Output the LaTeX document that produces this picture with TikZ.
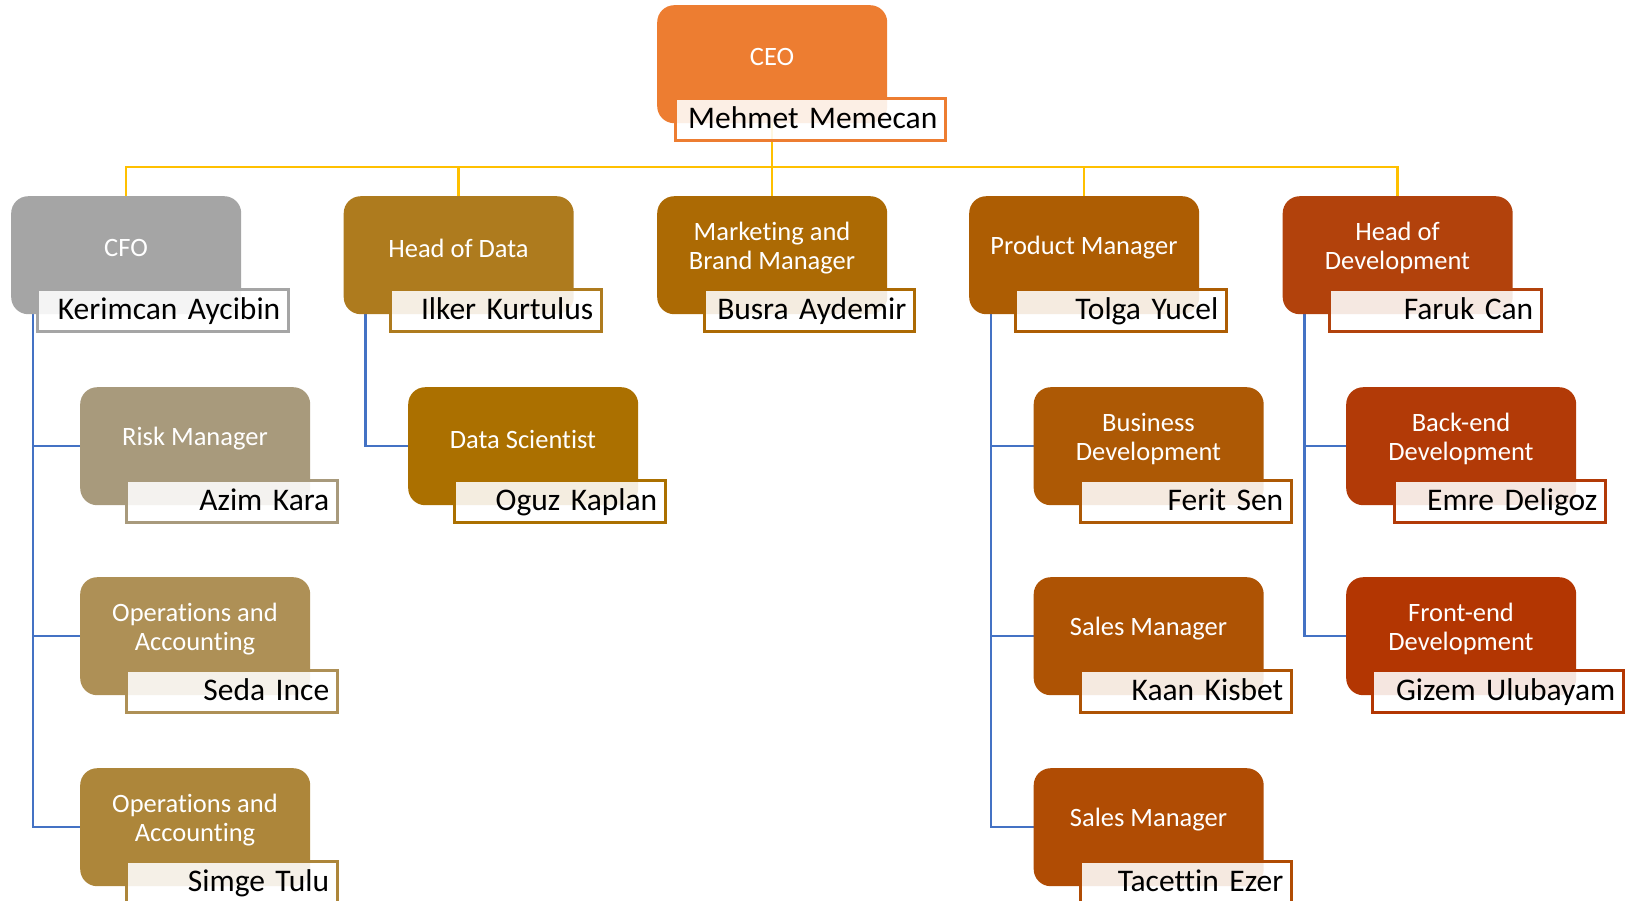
\documentclass[tikz,border=0pt]{standalone}
\usepackage{fontspec}
\setmainfont{Carlito}[Ligatures=NoCommon]
\usetikzlibrary{calc}
\pgfdeclarelayer{bg}
\pgfsetlayers{bg,main}
\definecolor{ceoC}{HTML}{ED7D31}
\definecolor{cfoC}{HTML}{A5A5A5}
\definecolor{dataC}{HTML}{AE7B1E}
\definecolor{mktC}{HTML}{AC6A04}
\definecolor{prodC}{HTML}{AD5D03}
\definecolor{devC}{HTML}{B2420C}
\definecolor{riskC}{HTML}{A89A7C}
\definecolor{opsaC}{HTML}{AE9056}
\definecolor{opsbC}{HTML}{AD863A}
\definecolor{dsC}{HTML}{AB7000}
\definecolor{bizC}{HTML}{AD5905}
\definecolor{salesaC}{HTML}{AE5304}
\definecolor{salesbC}{HTML}{B04C04}
\definecolor{backC}{HTML}{B23A07}
\definecolor{frontC}{HTML}{B33602}
\definecolor{yelC}{HTML}{FFC000}
\definecolor{bluC}{HTML}{4472C4}
\tikzset{
  unitbox/.style={rectangle, rounded corners=17pt, minimum width=230pt, minimum height=118pt, inner sep=0pt, anchor=north west},
  titletext/.style={text=white, align=center, inner sep=0pt, font=\fontsize{26.5}{29}\selectfont},
  namebox/.style={rectangle, line width=2.5pt, fill=white, fill opacity=0.88, text opacity=1, text=black,
    anchor=north west, inner xsep=8pt, inner ysep=0pt, minimum height=42pt, align=right,
    text height=22pt, text depth=4pt, font=\fontsize{31.5}{36}\selectfont},
  yel/.style={draw=yelC, line width=2.5pt},
  blu/.style={draw=bluC, line width=2.5pt}
}
\newcommand\orgunit[8]{%
  \node[unitbox, fill=#4] (#1) at (#2,#3) {};
  \node[titletext] (#1t) at ({#2+115},{#3+52}) {#5};
  \node[namebox, draw=#4, text width={#7-#6-16}] (#1n) at (#6,{#3+92}) {#8};
}
\begin{document}
\begin{tikzpicture}[x=1pt, y=-1pt]
\useasboundingbox (0,0) rectangle (1627,900);
\orgunit{ceo}{657}{5}{ceoC}{CEO}{674}{944}{Mehmet Memecan}
\orgunit{cfo}{11}{196}{cfoC}{CFO}{36}{287}{Kerimcan Aycibin}
\orgunit{data}{343.5}{196}{dataC}{Head of Data}{389}{600}{Ilker Kurtulus}
\orgunit{mkt}{657}{196}{mktC}{Marketing and\\Brand Manager}{703}{913}{Busra Aydemir}
\orgunit{prod}{969}{196}{prodC}{Product Manager}{1014}{1225}{Tolga Yucel}
\orgunit{dev}{1282.5}{196}{devC}{Head of\\Development}{1328}{1540}{Faruk Can}
\orgunit{risk}{80}{387}{riskC}{Risk Manager}{125}{336}{Azim Kara}
\orgunit{opsa}{80}{577}{opsaC}{Operations and\\Accounting}{125}{336}{Seda Ince}
\orgunit{opsb}{80}{768}{opsbC}{Operations and\\Accounting}{125}{336}{Simge Tulu}
\orgunit{ds}{408}{387}{dsC}{Data Scientist}{453}{664}{Oguz Kaplan}
\orgunit{biz}{1033.5}{387}{bizC}{Business\\Development}{1079}{1290}{Ferit Sen}
\orgunit{salesa}{1033.5}{577}{salesaC}{Sales Manager}{1079}{1290}{Kaan Kisbet}
\orgunit{salesb}{1033.5}{768}{salesbC}{Sales Manager}{1079}{1290}{Tacettin Ezer}
\orgunit{back}{1346}{387}{backC}{Back-end\\Development}{1393}{1604}{Emre Deligoz}
\orgunit{front}{1346}{577}{frontC}{Front-end\\Development}{1371}{1622}{Gizem Ulubayam}
\coordinate (cfoB) at ([xshift=22pt]cfo.south west);
\coordinate (dataB) at ([xshift=22pt]data.south west);
\coordinate (prodB) at ([xshift=22pt]prod.south west);
\coordinate (devB) at ([xshift=22pt]dev.south west);
\begin{pgfonlayer}{bg}
\draw[yel] (ceo.south) -- (mkt.north);
\draw[yel] (cfo.north) -- ++(0,-29) -| (dev.north);
\draw[yel] (data.north) -- ++(0,-29);
\draw[yel] (prod.north) -- ++(0,-29);
\draw[blu] (cfoB) |- (opsb.west);
\draw[blu] (cfoB |- risk.west) -- (risk.west);
\draw[blu] (cfoB |- opsa.west) -- (opsa.west);
\draw[blu] (dataB) |- (ds.west);
\draw[blu] (prodB) |- (salesb.west);
\draw[blu] (prodB |- biz.west) -- (biz.west);
\draw[blu] (prodB |- salesa.west) -- (salesa.west);
\draw[blu] (devB) |- (front.west);
\draw[blu] (devB |- back.west) -- (back.west);
\end{pgfonlayer}
\end{tikzpicture}
\end{document}
